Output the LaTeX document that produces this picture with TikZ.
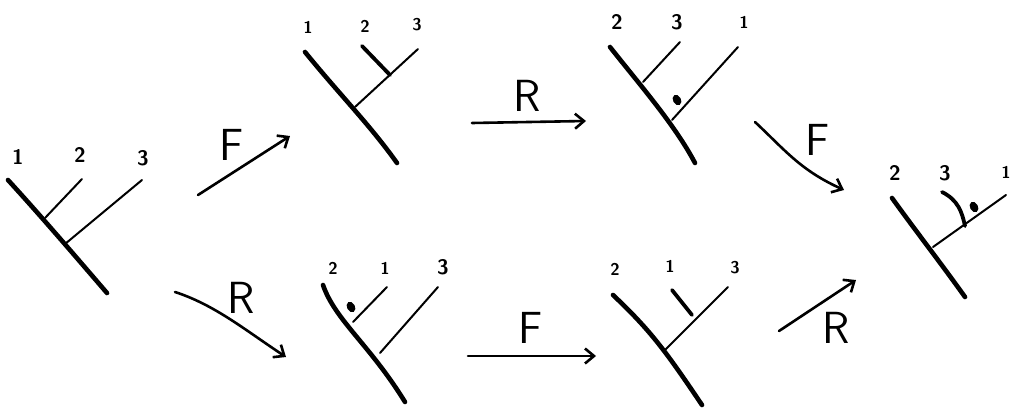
\documentclass[tikz,border=0pt]{standalone}
\usetikzlibrary{arrows.meta,shapes.geometric}
\begin{document}
\begin{tikzpicture}[x=1pt,y=-1pt,
  trunk/.style={line width=4.6pt,line cap=round},
  branch/.style={line width=2pt,line cap=round},
  twig/.style={line width=3.8pt,line cap=round},
  leaf/.style={font=\sffamily\bfseries\fontsize{21}{21}\selectfont,inner sep=0pt},
  leafs/.style={font=\sffamily\bfseries\fontsize{17}{17}\selectfont,inner sep=0pt},
  op/.style={font=\sffamily\fontsize{45}{45}\selectfont,inner sep=0pt},
  move/.style={line width=2.6pt,line cap=round,-{Straight Barb[length=9pt,width=15pt,line width=2.6pt]}},
  blob/.style={fill=black,ellipse,inner sep=0pt,minimum width=8pt,minimum height=11pt,rotate=30}
]
\useasboundingbox (0,0) rectangle (1014,412);

% ---------- tree A (left) ----------
\draw[trunk] (8,180) .. controls (40,215) and (70,250) .. (107,293);
\draw[branch] (45,218) -- (82,179);
\draw[branch] (65,244) -- (142,180);
\node[leaf] (a1) at (18,157) {1};
\node[leaf] (a2) at (80,155) {2};
\node[leaf] (a3) at (143,158) {3};

% ---------- tree B (top, after F) ----------
\draw[trunk] (305,52) .. controls (340,95) and (370,125) .. (397,163);
\draw[branch] (355,107) -- (418,49);
\draw[twig] (362,46) -- (390,75);
\node[leafs] (b1) at (308,27) {1};
\node[leafs] (b2) at (365,26) {2};
\node[leafs] (b3) at (417,25) {3};

% ---------- tree C (top, after R) ----------
\draw[trunk] (610,47) .. controls (640,85) and (675,125) .. (695,163);
\draw[branch] (643,82) -- (680,42);
\draw[branch] (672,120) -- (738,47);
\node[blob] (cb) at (677,100) {};
\node[leaf] (c2) at (617,22) {2};
\node[leaf] (c3) at (677,22) {3};
\node[leafs] (c1) at (744,22) {1};

% ---------- tree D (bottom, after R) ----------
\draw[trunk] (323,285) .. controls (335,320) and (370,345) .. (405,402);
\draw[branch] (353,322) -- (387,287);
\draw[branch] (380,353) -- (438,287);
\node[blob] (db) at (351,307) {};
\node[leafs] (d2) at (333,268) {2};
\node[leafs] (d1) at (385,268) {1};
\node[leaf] (d3) at (443,267) {3};

% ---------- tree E (bottom, after F) ----------
\draw[trunk] (613,295) .. controls (650,330) and (665,350) .. (702,405);
\draw[branch] (665,350) -- (728,287);
\draw[twig] (672,290) -- (692,315);
\node[leafs] (e2) at (615,269) {2};
\node[leafs] (e1) at (670,266) {1};
\node[leafs] (e3) at (735,268) {3};

% ---------- tree G (right, result) ----------
\draw[trunk] (892,198) .. controls (915,230) and (940,262) .. (965,297);
\draw[branch] (933,247) -- (1006,195);
\draw[twig] (942,192) .. controls (958,200) and (962,212) .. (965,226);
\node[blob] (gb) at (974,207) {};
\node[leaf] (g2) at (895,173) {2};
\node[leaf] (g3) at (945,173) {3};
\node[leafs] (g1) at (1006,172) {1};

% ---------- moves ----------
\coordinate (f1s) at (198,195); \coordinate (f1e) at (290,136);
\draw[move] (f1s) -- (f1e);
\node[op] (f1) at (232,145) {F};

\coordinate (r1s) at (175,292); \coordinate (r1e) at (286,357);
\draw[move] (r1s) .. controls (215,305) and (245,330) .. (r1e);
\node[op] (r1) at (241,298) {R};

\coordinate (r2s) at (472,123); \coordinate (r2e) at (586,121);
\draw[move] (r2s) -- (r2e);
\node[op] (r2) at (527,96) {R};

\coordinate (f2s) at (468,356); \coordinate (f2e) at (596,356);
\draw[move] (f2s) -- (f2e);
\node[op] (f2) at (531,328) {F};

\coordinate (f3s) at (755,122); \coordinate (f3e) at (844,190);
\draw[move] (f3s) .. controls (785,150) and (800,170) .. (f3e);
\node[op] (f3) at (818,140) {F};

\coordinate (r3s) at (779,331); \coordinate (r3e) at (856,280);
\draw[move] (r3s) -- (r3e);
\node[op] (r3) at (836,328) {R};
\end{tikzpicture}
\end{document}
